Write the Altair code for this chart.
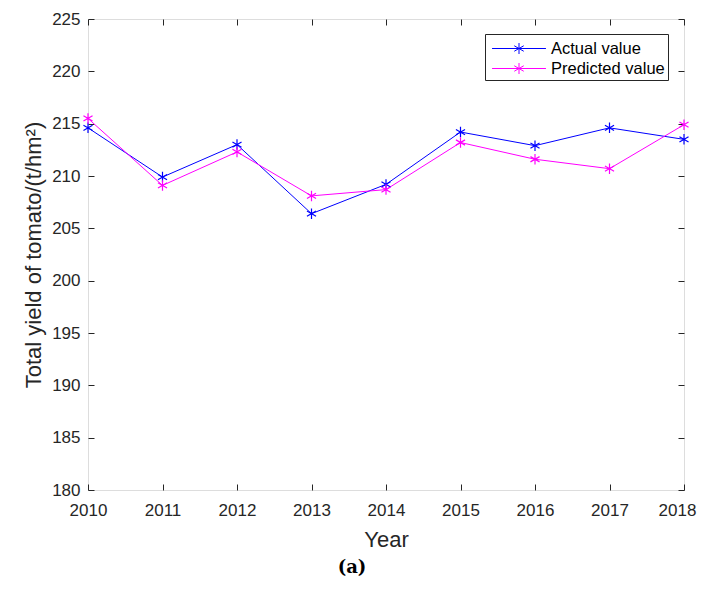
import altair as alt
import pandas as pd

years = [2010, 2011, 2012, 2013, 2014, 2015, 2016, 2017, 2018]
actual = [214.6, 209.9, 213.0, 206.4, 209.2, 214.2, 212.9, 214.6, 213.5]
predicted = [215.5, 209.1, 212.3, 208.1, 208.7, 213.2, 211.6, 210.7, 214.9]
series_names = ["Actual value", "Predicted value"]
series_colors = ["#0000FF", "#FF00FF"]
y_ticks = [180, 185, 190, 195, 200, 205, 210, 215, 220, 225]

rows = []
for name, vals in zip(series_names, [actual, predicted]):
    for yr, v in zip(years, vals):
        rows.append({"Year": yr, "Value": v, "Series": name})
df = pd.DataFrame(rows)

ASTER = "M0,-1L0,1M-0.866,-0.5L0.866,0.5M-0.866,0.5L0.866,-0.5"
LEG = "M-2.45,0H2.45M0,-0.5V0.5M-0.433,-0.25L0.433,0.25M-0.433,0.25L0.433,-0.25"

FONT = "Liberation Sans"
TXT = "#262626"

xscale = alt.Scale(domain=[2010, 2018], nice=False, zero=False)
yscale = alt.Scale(domain=[180, 225], nice=False, zero=False)
cscale = alt.Scale(domain=series_names, range=series_colors)

base = alt.Chart(df)

lines = base.mark_line(strokeWidth=1).encode(
    x=alt.X("Year:Q", scale=xscale,
            axis=alt.Axis(values=years, format="d", title="Year", offset=-6,
                          domain=False, tickSize=6, tickColor=TXT, labelPadding=12,
                          labelFlush=False, labelOverlap=False,
                          labelOffset={"condition": {"test": "datum.value == 2018", "value": -7},
                                       "value": 0},
                          labelFont=FONT, labelFontSize=17, labelColor=TXT,
                          titleFont=FONT, titleFontSize=22, titleFontWeight="normal",
                          titleColor=TXT, titlePadding=11, grid=False)),
    y=alt.Y("Value:Q", scale=yscale,
            axis=alt.Axis(values=y_ticks, title="Total yield of tomato/(t/hm²)", offset=-6,
                          domain=False, tickSize=6, tickColor=TXT, labelPadding=8,
                          labelFlush=False, labelOverlap=False,
                          labelFont=FONT, labelFontSize=17, labelColor=TXT,
                          titleFont=FONT, titleFontSize=22, titleFontWeight="normal",
                          titleColor=TXT, titlePadding=6, grid=False)),
    color=alt.Color("Series:N", scale=cscale,
                    legend=alt.Legend(title=None, orient="none", legendX=397, legendY=15,
                                      symbolType=LEG, symbolSize=484, symbolStrokeWidth=1,
                                      symbolOffset=19.5,
                                      labelFont=FONT, labelFontSize=16.5, labelColor="#000000",
                                      labelOffset=20.5, rowPadding=0, padding=3,
                                      strokeColor="#262626", fillColor="#ffffff")),
    detail="Series:N",
)

points = base.mark_point(shape=ASTER, filled=False, size=110, strokeWidth=1.2, opacity=1).encode(
    x=alt.X("Year:Q", scale=xscale, axis=None),
    y=alt.Y("Value:Q", scale=yscale, axis=None),
    color=alt.Color("Series:N", scale=cscale),
)

frame = base.mark_point(opacity=0).encode(
    x=alt.X("Year:Q", scale=xscale,
            axis=alt.Axis(orient="top", values=years, labels=False, title=None, offset=-6,
                          domain=False, tickSize=6, tickColor=TXT, grid=False)),
    y=alt.Y("Value:Q", scale=yscale,
            axis=alt.Axis(orient="right", values=y_ticks, labels=False, title=None, offset=-6,
                          domain=False, tickSize=6, tickColor=TXT, grid=False)),
)

chart = alt.layer(lines, points, frame).resolve_axis(x="independent", y="independent").properties(
    width=596, height=471,
    padding={"left": 80, "top": 11, "right": 13, "bottom": 88},
    autosize=alt.AutoSizeParams(type="none"),
    title=alt.TitleParams(text="(a)", orient="bottom", anchor="middle", dx=-34, offset=9,
                          font="DejaVu Serif", fontSize=18, fontWeight="bold", color="#000000"),
).configure_view(stroke=TXT, strokeWidth=1).configure(background="white")

chart.save("out.html", embed_options={"renderer": "svg", "actions": False})
